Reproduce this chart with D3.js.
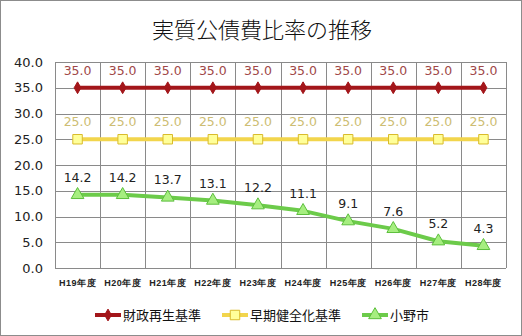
<!DOCTYPE html>
<html>
<head>
<meta charset="utf-8">
<script src="https://cdn.jsdelivr.net/npm/d3@7"></script>
<style>
  body { margin: 0; background: #fff; }
  svg { display: block; font-family: "Noto Sans CJK JP", "DejaVu Sans", sans-serif; }
</style>
</head>
<body>
<div id="chart"></div>
<script>
// data
const years = ['H19年度', 'H20年度', 'H21年度', 'H22年度', 'H23年度', 'H24年度', 'H25年度', 'H26年度', 'H27年度', 'H28年度'];
const saiseiValues = [35.0, 35.0, 35.0, 35.0, 35.0, 35.0, 35.0, 35.0, 35.0, 35.0];
const kenzenValues = [25.0, 25.0, 25.0, 25.0, 25.0, 25.0, 25.0, 25.0, 25.0, 25.0];
const onoValues = [14.2, 14.2, 13.7, 13.1, 12.2, 11.1, 9.1, 7.6, 5.2, 4.3];
const yTicks = [0, 5, 10, 15, 20, 25, 30, 35, 40];

const series = [
  {name: '財政再生基準', values: saiseiValues, line: '#a3161a', fill: '#a3161a', stroke: '#a3161a', label: '#a04848', symbol: d3.symbolDiamond, size: 40},
  {name: '早期健全化基準', values: kenzenValues, line: '#f2d54c', fill: '#ffff99', stroke: '#d9bb2b', label: '#cdbd73', symbol: d3.symbolSquare, size: 90},
  {name: '小野市', values: onoValues, line: '#6ccb4a', fill: '#a6ee80', stroke: '#5cbf3c', label: '#222', symbol: d3.symbolTriangle, size: 70}
];

const width = 522, height = 336;
const margin = {top: 62, right: 16, bottom: 68, left: 55};
const w = width - margin.left - margin.right;
const h = height - margin.top - margin.bottom;

const svg = d3.select('#chart').append('svg')
  .attr('width', width)
  .attr('height', height);

// outer border
svg.append('rect')
  .attr('x', 0.5).attr('y', 0.5)
  .attr('width', width - 1).attr('height', height - 1)
  .attr('fill', '#fff')
  .attr('stroke', '#8c8c8c');

svg.append('text')
  .attr('x', width / 2 + 1)
  .attr('y', 38)
  .attr('text-anchor', 'middle')
  .style('font-size', '22px')
  .style('font-weight', '300')
  .style('fill', '#111')
  .text('実質公債費比率の推移');

const g = svg.append('g')
  .attr('transform', 'translate(' + margin.left + ',' + margin.top + ')');

const x = d3.scaleBand().domain(years).range([0, w]);
const y = d3.scaleLinear().domain([0, 40]).range([h, 0]);

// grid
g.selectAll('line.hgrid')
  .data(yTicks)
  .enter().append('line')
  .attr('class', 'hgrid')
  .attr('x1', 0).attr('x2', w)
  .attr('y1', d => Math.round(y(d)) + 0.5)
  .attr('y2', d => Math.round(y(d)) + 0.5)
  .attr('stroke', '#8a8a8a');

const bounds = years.map(d => x(d)).concat([w]);
g.selectAll('line.vgrid')
  .data(bounds)
  .enter().append('line')
  .attr('class', 'vgrid')
  .attr('y1', 0).attr('y2', h)
  .attr('x1', d => Math.round(d) + 0.5)
  .attr('x2', d => Math.round(d) + 0.5)
  .attr('stroke', '#8a8a8a');

// y axis labels
const yAxis = g.append('g')
  .call(d3.axisLeft(y).tickValues(yTicks).tickFormat(d3.format('.1f')).tickSize(0).tickPadding(12));
yAxis.select('.domain').remove();
yAxis.selectAll('text')
  .style('font-size', '13px')
  .style('font-family', '"DejaVu Sans", sans-serif')
  .style('fill', '#222');

// x axis labels
const xAxis = g.append('g')
  .attr('transform', 'translate(0,' + h + ')')
  .call(d3.axisBottom(x).tickSize(0).tickPadding(12));
xAxis.select('.domain').remove();
xAxis.selectAll('text')
  .style('font-size', '9px')
  .style('font-weight', 'bold')
  .style('letter-spacing', '0.5px')
  .style('fill', '#222');

const cx = d => x(d) + x.bandwidth() / 2;
const line = d3.line()
  .x((d, i) => cx(years[i]))
  .y(d => y(d));

series.forEach(s => {
  const sg = g.append('g');
  sg.append('path')
    .datum(s.values)
    .attr('d', line)
    .attr('fill', 'none')
    .attr('stroke', s.line)
    .attr('stroke-width', 4)
    .attr('stroke-linejoin', 'round');

  sg.selectAll('path.mark')
    .data(s.values)
    .enter().append('path')
    .attr('class', 'mark')
    .attr('d', d3.symbol().type(s.symbol).size(s.size))
    .attr('transform', (d, i) => 'translate(' + cx(years[i]) + ',' + y(d) + ')')
    .attr('fill', s.fill)
    .attr('stroke', s.stroke)
    .attr('stroke-width', 1);

  sg.selectAll('text.val')
    .data(s.values)
    .enter().append('text')
    .attr('class', 'val')
    .attr('x', (d, i) => cx(years[i]))
    .attr('y', d => y(d) - 13)
    .attr('text-anchor', 'middle')
    .style('font-size', '12.5px')
    .style('font-family', '"DejaVu Sans", sans-serif')
    .style('fill', s.label)
    .text(d => d3.format('.1f')(d));
});

// legend
const legendX = [95, 222, 362];
const legend = svg.append('g')
  .attr('transform', 'translate(0,315)');
series.forEach((s, i) => {
  const lg = legend.append('g').attr('transform', 'translate(' + legendX[i] + ',0)');
  lg.append('line')
    .attr('x1', 0).attr('x2', 26)
    .attr('stroke', s.line)
    .attr('stroke-width', 4);
  lg.append('path')
    .attr('d', d3.symbol().type(s.symbol).size(s.size))
    .attr('transform', 'translate(13,0)')
    .attr('fill', s.fill)
    .attr('stroke', s.stroke);
  lg.append('text')
    .attr('x', 28)
    .attr('y', 5)
    .style('font-size', '13px')
    .style('fill', '#111')
    .text(s.name);
});
</script>
</body>
</html>
